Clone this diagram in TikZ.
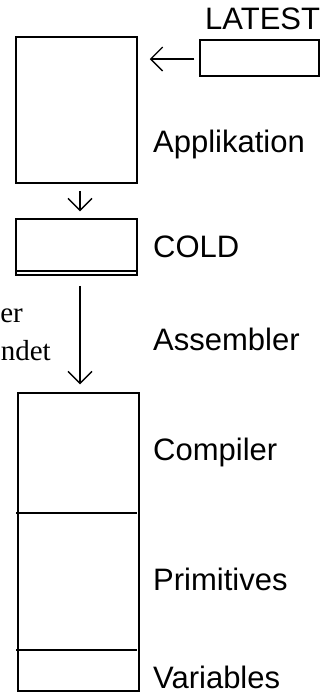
\documentclass[tikz,border=0pt]{standalone}
\usepackage{fontspec}
\setmainfont{Liberation Sans}
\newfontfamily\serifface{Liberation Serif}
\usetikzlibrary{arrows.meta}
\begin{document}
\begin{tikzpicture}[x=1pt,y=-1pt,
  boxstyle/.style={draw, line width=1.5pt, inner sep=0pt, minimum width=121pt},
  arr/.style={line width=1.4pt, -{Straight Barb[length=12pt,width=24pt,line width=1.4pt]}},
  lbl/.style={anchor=base west, inner sep=0pt, font=\fontsize{31}{36}\selectfont},
  sidetxt/.style={anchor=base east, inner sep=0pt, font=\serifface\fontsize{29}{34}\selectfont}]
\useasboundingbox (0,0) rectangle (330,697);
% boxes
\node[boxstyle, minimum height=146pt] (app) at (76.5,110) {};
\node[boxstyle, minimum width=119pt, minimum height=36pt] (latestbox) at (259.5,58) {};
\node[boxstyle, minimum height=56pt] (cold) at (76.5,247) {};
\node[boxstyle, minimum height=298pt] (stack) at (78.5,542) {};
% double bottom line of COLD
\coordinate (cdl) at (16,271);
\coordinate (cdr) at (137,271);
\draw[line width=1.2pt] (cdl) -- (cdr);
% dividers of the stack
\coordinate (d1l) at (16,513);
\coordinate (d1r) at (137,513);
\coordinate (d2l) at (16,650);
\coordinate (d2r) at (137,650);
\draw[line width=1.5pt] (d1l) -- (d1r);
\draw[line width=1.5pt] (d2l) -- (d2r);
% labels
\node[lbl] (tlatest) at (205,29) {LATEST};
\node[lbl] (tapp) at (153,152) {Applikation};
\node[lbl] (tcold) at (153,257) {COLD};
\node[lbl] (tasm) at (153,350) {Assembler};
\node[lbl] (tcomp) at (153,460) {Compiler};
\node[lbl] (tprim) at (153,590) {Primitives};
\node[lbl] (tvar) at (153,688) {Variables};
\node[sidetxt] (ser) at (23,322) {er};
\node[sidetxt] (sndet) at (51,360) {ndet};
% arrows
\draw[arr, shorten <=5pt, shorten >=12pt] ([yshift=-1pt]latestbox.west) -- ([yshift=-1pt]latestbox.west -| app.east);
\draw[arr, shorten <=7pt, shorten >=7pt] ([xshift=3.5pt]app.south) -- ([xshift=3.5pt]cold.north);
\draw[arr, shorten <=10pt, shorten >=8pt] ([xshift=3.5pt]cold.south) -- ([xshift=1.5pt]stack.north);
\end{tikzpicture}
\end{document}
